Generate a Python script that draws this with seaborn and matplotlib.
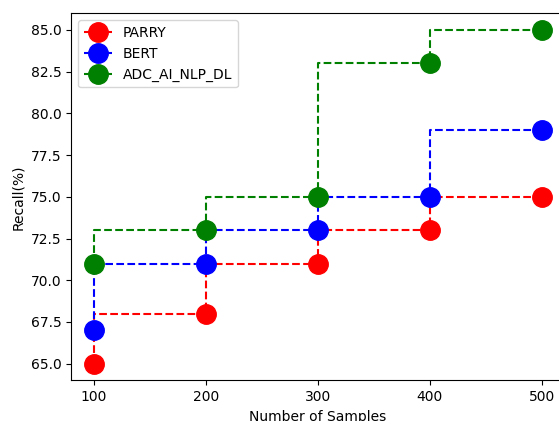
import matplotlib
matplotlib.use("Agg")
import matplotlib.pyplot as plt
import seaborn as sns
import pandas as pd

samples = [100, 200, 300, 400, 500]
parry = [65, 68, 71, 73, 75]
bert = [67, 71, 73, 75, 79]
adc = [71, 73, 75, 83, 85]
series_names = ["PARRY", "BERT", "ADC_AI_NLP_DL"]
colors = ["red", "blue", "green"]

fig = plt.figure(figsize=(5.59, 4.21), dpi=100)
ax = fig.add_axes([71.3 / 559, 40.7 / 421, 492.8 / 559, 367.0 / 421])

for name, vals, c in zip(series_names, [parry, bert, adc], colors):
    df = pd.DataFrame({"x": samples, "y": vals})
    sns.lineplot(data=df, x="x", y="y", ax=ax, color=c, label=name,
                 linestyle="--", marker="o", markersize=14,
                 markeredgecolor=c, markeredgewidth=1,
                 drawstyle="steps-pre", linewidth=1.5)

ax.set_xlim(80, 520)
ax.set_ylim(64, 86)
ax.set_xticks([100, 200, 300, 400, 500])
ax.set_yticks([65.0, 67.5, 70.0, 72.5, 75.0, 77.5, 80.0, 82.5, 85.0])
ax.set_yticklabels(["65.0", "67.5", "70.0", "72.5", "75.0", "77.5", "80.0", "82.5", "85.0"])
ax.set_xlabel("Number of Samples")
ax.set_ylabel("Recall(%)")
ax.legend(loc="upper left")

fig.savefig("out.png", dpi=100)
